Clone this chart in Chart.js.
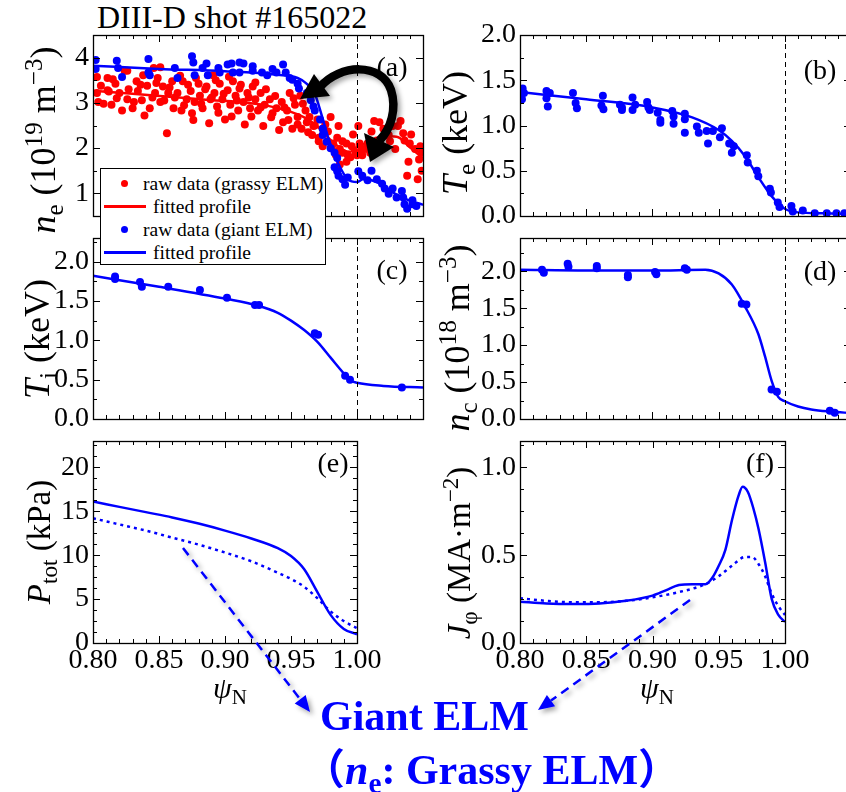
<!DOCTYPE html>
<html>
<head>
<meta charset="utf-8">
<script src="https://cdn.jsdelivr.net/npm/chart.js@4.4.1/dist/chart.umd.min.js"></script>
<style>
  body { margin: 0; background: #fff; }
  #page { position: relative; width: 846px; height: 792px; overflow: hidden;
          font-family: "Liberation Serif", "Times New Roman", serif; color: #000; }
  canvas { position: absolute; }
  .t { position: absolute; white-space: nowrap; line-height: 1; }
  .yt { position: absolute; white-space: nowrap; line-height: 1; font-size: 36px;
        transform: translate(-50%, -50%) rotate(-90deg); }
  .lab { position: absolute; white-space: nowrap; line-height: 1; font-size: 28px;
         transform: translate(-50%, -50%); }
  .sb { font-size: 0.7em; position: relative; top: 0.3em; }
  .sp { font-size: 0.7em; position: relative; top: -0.5em; }
  #legend { position: absolute; left: 100px; top: 168px; width: 224px; height: 95px;
            border: 1px solid #000; background: #fff; font-size: 19.5px; }
  #legend .row { position: absolute; left: 0; height: 23px; width: 100%; }
  #legend .dot { position: absolute; left: 20px; top: 8px; width: 7px; height: 7px; border-radius: 50%; }
  #legend .ln { position: absolute; left: 3px; top: 10px; width: 42px; height: 2.5px; }
  #legend span.txt { position: absolute; top: 2px; line-height: 1; }
  .big { font-size: 42px; font-weight: bold; font-family: "Liberation Serif", serif; }
</style>
</head>
<body>
<div id="page">
  <div class="t" style="left:97px; top:1px; font-size:32px;">DIII-D shot #165022</div>
</div>
<script>
// psi_N axis
const xTicks = [0.80, 0.85, 0.90, 0.95, 1.00];

// (a) electron density, 10^19 m^-3
const neTicks = [1, 2, 3, 4];
const neGrassyRaw = [
  [0.803,3.57],[0.803,3.22],[0.804,3.02],[0.806,3.38],[0.808,2.98],[0.811,3.55],[0.811,3.28],[0.812,3.25],
  [0.814,2.96],[0.815,3.52],[0.817,3.42],[0.818,3.10],[0.820,3.22],[0.822,2.83],[0.824,3.71],[0.826,3.71],
  [0.826,3.08],[0.827,3.30],[0.830,2.88],[0.831,3.02],[0.833,3.48],[0.834,3.26],[0.836,3.40],[0.837,3.06],
  [0.838,3.61],[0.839,2.72],[0.841,3.38],[0.843,2.88],[0.845,3.12],[0.846,3.77],[0.847,3.22],[0.848,3.44],
  [0.849,3.55],[0.851,3.02],[0.851,3.79],[0.853,3.36],[0.854,3.05],[0.856,2.33],[0.857,3.22],[0.858,3.34],
  [0.860,3.48],[0.861,2.88],[0.862,3.12],[0.864,3.22],[0.866,3.60],[0.867,2.83],[0.868,3.48],[0.869,2.95],
  [0.871,3.08],[0.872,3.40],[0.874,3.26],[0.875,2.77],[0.876,2.62],[0.877,3.02],[0.878,3.55],[0.880,3.42],
  [0.881,3.16],[0.882,2.98],[0.883,2.88],[0.885,3.30],[0.886,3.36],[0.888,2.55],[0.889,3.08],[0.890,3.12],
  [0.891,3.61],[0.892,3.22],[0.893,3.50],[0.894,2.92],[0.895,2.78],[0.896,3.42],[0.898,3.08],[0.899,3.20],
  [0.900,2.63],[0.902,3.28],[0.903,3.58],[0.904,2.96],[0.905,2.70],[0.906,3.48],[0.908,3.16],[0.909,3.05],
  [0.910,2.83],[0.911,3.32],[0.912,3.40],[0.914,3.02],[0.915,2.52],[0.917,3.22],[0.918,3.12],[0.919,2.88],
  [0.920,2.70],[0.921,3.36],[0.923,3.08],[0.923,3.45],[0.925,2.83],[0.927,3.22],[0.927,2.90],[0.929,2.49],
  [0.930,2.96],[0.931,3.30],[0.934,3.08],[0.935,2.68],[0.936,2.77],[0.938,3.15],[0.939,2.88],[0.941,2.40],
  [0.943,3.02],[0.944,2.57],[0.945,2.90],[0.947,2.83],[0.948,2.62],[0.949,3.22],[0.951,2.43],[0.952,3.10],
  [0.953,2.96],[0.955,2.69],[0.955,2.52],[0.957,3.16],[0.958,2.43],[0.959,2.98],[0.961,2.83],[0.962,2.57],
  [0.963,2.35],[0.964,2.69],[0.966,2.29],[0.967,2.49],[0.968,2.50],[0.970,2.63],[0.971,2.23],[0.971,2.15],
  [0.974,2.43],[0.974,2.04],[0.976,2.52],[0.978,2.37],[0.980,2.69],[0.981,2.00],[0.982,2.10],[0.984,1.85],
  [0.985,2.23],[0.986,2.49],[0.987,1.98],[0.987,1.64],[0.989,2.15],[0.989,1.90],[0.992,2.10],[0.992,1.70],
  [0.993,1.84],[0.995,1.80],[0.996,2.04],[0.997,2.30],[0.999,1.90],[1.000,1.84],[1.001,2.49],[1.002,2.10],
  [1.003,1.95],[1.004,1.84],[1.006,1.98],[1.008,2.10],[1.010,1.90],[1.011,2.37],[1.013,2.60],[1.015,2.17],
  [1.017,2.57],[1.018,2.05],[1.020,2.43],[1.021,2.29],[1.024,2.29],[1.025,2.15],[1.027,2.49],[1.029,1.98],
  [1.031,2.49],[1.033,2.60],[1.035,2.33],[1.036,2.17],[1.038,1.39],[1.039,1.70],[1.040,2.10],[1.041,2.30],
  [1.044,1.98],[1.046,1.31],[1.047,1.75],[1.048,2.04],[1.049,1.90],[1.049,1.50]
];
const neGrassyFit = [
  [0.80,3.27],[0.83,3.20],[0.86,3.13],[0.89,3.06],[0.91,3.02],[0.93,2.95],[0.95,2.80],[0.96,2.68],
  [0.97,2.48],[0.98,2.18],[0.99,1.95],[0.995,1.92],[1.00,2.02],[1.01,2.14],[1.02,2.26],[1.03,2.25],
  [1.04,2.02],[1.05,1.78]
];
const neGiantRaw = [
  [0.802,3.95],[0.802,3.75],[0.818,3.93],[0.819,3.77],[0.822,3.57],[0.842,3.97],[0.842,3.67],[0.843,3.61],
  [0.862,3.77],[0.864,3.55],[0.875,4.03],[0.876,3.89],[0.877,3.61],[0.883,3.77],[0.887,3.61],[0.886,3.87],
  [0.895,3.77],[0.896,3.67],[0.902,3.85],[0.905,3.87],[0.906,3.67],[0.911,3.89],[0.911,3.67],[0.914,3.87],
  [0.921,3.81],[0.921,3.71],[0.928,3.67],[0.932,3.61],[0.936,3.75],[0.939,3.67],[0.944,3.85],[0.946,3.67],
  [0.949,3.55],[0.951,3.51],[0.955,3.42],[0.956,3.32],[0.962,3.22],[0.965,3.06],[0.967,2.92],[0.968,2.83],
  [0.972,2.63],[0.974,2.43],[0.974,2.29],[0.977,2.14],[0.980,2.00],[0.983,1.90],[0.985,1.78],[0.983,1.58],
  [0.985,1.49],[0.986,1.39],[0.989,1.31],[0.991,1.19],[0.993,1.35],[1.001,1.49],[1.004,1.39],[1.008,1.29],
  [1.011,1.50],[1.015,1.31],[1.019,1.21],[1.021,1.11],[1.024,0.99],[1.027,1.11],[1.030,0.91],[1.034,1.05],
  [1.035,0.91],[1.036,0.76],[1.038,0.66],[1.042,0.85],[1.042,0.76],[1.045,0.72]
];
const neGiantFit = [
  [0.80,3.82],[0.85,3.75],[0.90,3.70],[0.94,3.62],[0.955,3.55],[0.962,3.42],[0.968,3.20],[0.9735,2.70],
  [0.978,2.25],[0.983,1.85],[0.9886,1.50],[0.993,1.31],[1.00,1.25],[1.0045,1.31],[1.011,1.29],[1.019,1.19],
  [1.029,0.99],[1.039,0.85],[1.05,0.75]
];

// (b) electron temperature, keV
const keVTicks = [0, 0.5, 1.0, 1.5, 2.0];
const teRaw = [
  [0.802,1.41],[0.8015,1.29],[0.803,1.36],[0.820,1.38],[0.8225,1.36],[0.821,1.21],[0.820,1.30],[0.840,1.36],
  [0.842,1.25],[0.843,1.19],[0.8626,1.33],[0.8615,1.22],[0.863,1.18],[0.8755,1.23],[0.877,1.17],[0.877,1.20],
  [0.885,1.31],[0.885,1.17],[0.887,1.23],[0.896,1.26],[0.897,1.20],[0.898,1.17],[0.904,1.14],[0.906,1.06],
  [0.906,1.03],[0.915,1.16],[0.916,1.10],[0.916,1.02],[0.9245,1.13],[0.9245,1.07],[0.9245,0.92],[0.9336,0.99],
  [0.935,0.92],[0.941,0.94],[0.942,0.80],[0.9457,0.94],[0.951,0.87],[0.9525,0.97],[0.958,0.80],[0.960,0.70],
  [0.9615,0.77],[0.9713,0.67],[0.972,0.59],[0.9789,0.50],[0.980,0.44],[0.9887,0.30],[0.9895,0.26],[0.9947,0.15],
  [0.996,0.10],[1.005,0.11],[1.006,0.05],[1.0136,0.06],[1.0226,0.03],[1.0317,0.03],[1.039,0.03],[1.045,0.03]
];
const teFit = [
  [0.80,1.37],[0.85,1.29],[0.90,1.20],[0.93,1.09],[0.95,0.95],[0.96,0.83],[0.97,0.66],[0.98,0.43],
  [0.99,0.22],[1.00,0.08],[1.01,0.04],[1.03,0.03],[1.05,0.02]
];

// (c) ion temperature, keV
const tiRaw = [
  [0.8167,1.81],[0.8167,1.78],[0.8356,1.74],[0.837,1.68],[0.857,1.68],[0.881,1.64],[0.9015,1.54],[0.9227,1.45],
  [0.9258,1.45],[0.968,1.09],[0.9705,1.07],[0.991,0.55],[0.9947,0.50],[1.034,0.40]
];
const tiFit = [
  [0.80,1.82],[0.85,1.68],[0.90,1.53],[0.925,1.44],[0.94,1.35],[0.95,1.25],[0.96,1.13],[0.97,0.98],
  [0.98,0.78],[0.99,0.58],[0.995,0.49],[1.00,0.46],[1.02,0.42],[1.05,0.40]
];

// (d) carbon density, 10^18 m^-3
const ncRaw = [
  [0.8166,2.02],[0.818,1.98],[0.836,2.10],[0.8366,2.06],[0.858,2.07],[0.858,2.04],[0.8815,1.95],[0.8815,1.92],
  [0.902,1.99],[0.903,1.96],[0.9245,2.04],[0.926,2.02],[0.9675,1.56],[0.971,1.55],[0.990,0.40],[0.994,0.37],
  [1.034,0.11],[1.0377,0.085]
];
const ncFit = [
  [0.80,2.02],[0.85,2.01],[0.90,2.01],[0.94,2.02],[0.95,1.97],[0.96,1.82],[0.97,1.52],[0.98,1.15],
  [0.985,0.85],[0.99,0.52],[0.995,0.30],[1.00,0.24],[1.01,0.17],[1.02,0.13],[1.035,0.10],[1.05,0.08]
];

// (e) total pressure, kPa
const pTicks = [0, 5, 10, 15, 20];
const pSolid = [
  [0.80,16.1],[0.82,15.5],[0.84,14.9],[0.86,14.3],[0.88,13.6],[0.90,12.8],[0.92,11.9],[0.94,10.8],
  [0.95,9.9],[0.96,8.4],[0.97,5.8],[0.98,3.2],[0.99,1.6],[1.00,1.0]
];
const pDotted = [
  [0.80,14.2],[0.82,13.5],[0.84,12.8],[0.86,12.0],[0.88,11.2],[0.90,10.3],[0.92,9.3],[0.94,8.0],
  [0.95,7.3],[0.96,6.4],[0.97,5.1],[0.98,3.6],[0.99,2.5],[1.00,1.7]
];

// (f) toroidal current density, MA m^-2
const jTicks = [0, 0.5, 1.0];
const jSolid = [
  [0.80,0.235],[0.82,0.225],[0.84,0.222],[0.86,0.225],[0.88,0.24],[0.90,0.27],[0.91,0.30],[0.92,0.33],
  [0.93,0.335],[0.94,0.335],[0.945,0.37],[0.95,0.44],[0.955,0.53],[0.96,0.70],[0.965,0.84],[0.968,0.89],
  [0.972,0.86],[0.976,0.77],[0.98,0.65],[0.985,0.46],[0.99,0.25],[0.995,0.16],[1.00,0.12]
];
const jDotted = [
  [0.80,0.255],[0.82,0.24],[0.84,0.232],[0.86,0.232],[0.88,0.24],[0.90,0.26],[0.92,0.29],[0.94,0.335],
  [0.95,0.38],[0.96,0.44],[0.97,0.49],[0.975,0.49],[0.98,0.45],[0.985,0.38],[0.99,0.28],[0.995,0.21],[1.00,0.16]
];

const RED = '#ff0000', BLUE = '#0000ff';
const FONT = { family: "'Liberation Serif', 'Times New Roman', serif", size: 28 };
const page = document.getElementById('page');

const pts = arr => arr.map(([x, y]) => ({ x, y }));
const dots = (arr, color, order) => ({
  data: pts(arr), showLine: false, pointRadius: 4, pointHoverRadius: 4,
  backgroundColor: color, borderColor: color, pointBorderWidth: 0, order
});
const curve = (arr, color, order, dash) => ({
  data: pts(arr), showLine: true, pointRadius: 0, borderColor: color, borderWidth: 2.5,
  borderDash: dash || [], cubicInterpolationMode: 'monotone', fill: false, order
});

// box, inward ticks on all four sides and the dashed separatrix line
const framePlugin = {
  id: 'frame',
  afterDraw(chart, args, o) {
    const { ctx, chartArea: a, scales: { x, y } } = chart;
    ctx.save();
    ctx.strokeStyle = '#000';
    ctx.lineWidth = 1;
    const seg = (x1, y1, x2, y2) => { ctx.beginPath(); ctx.moveTo(x1, y1); ctx.lineTo(x2, y2); ctx.stroke(); };
    if (o.sep) {
      ctx.setLineDash([5, 4]);
      const px = Math.round(x.getPixelForValue(1.0)) + 0.5;
      seg(px, a.top, px, a.bottom);
      ctx.setLineDash([]);
    }
    for (let i = 0; ; i++) {
      const v = Math.round((x.min + i * 0.01) * 1000) / 1000;
      if (v > x.max + 1e-9) break;
      const len = i % 5 === 0 ? 7 : 4;
      const px = Math.round(x.getPixelForValue(v)) + 0.5;
      seg(px, a.bottom, px, a.bottom - len);
      seg(px, a.top, px, a.top + len);
    }
    const n = Math.round((y.max - y.min) / o.minor);
    const start = Math.ceil(y.min / o.minor - 1e-9) * o.minor;
    for (let i = 0; i <= n + 1; i++) {
      const v = start + i * o.minor;
      if (v > y.max + 1e-9) break;
      const r = v / o.major;
      const len = Math.abs(r - Math.round(r)) < 1e-6 ? 7 : 4;
      const py = Math.round(y.getPixelForValue(v)) + 0.5;
      seg(a.left, py, a.left + len, py);
      seg(a.right, py, a.right - len, py);
    }
    ctx.lineWidth = 1.3;
    ctx.strokeRect(Math.round(a.left) + 0.5, Math.round(a.top) + 0.5, Math.round(a.width), Math.round(a.height));
    ctx.restore();
  }
};

function panel(box, cfg) {
  // box = plot area in page pixels: [left, top, right, bottom]
  const padL = 80, padT = 22, padR = 30, padB = cfg.xLabels ? 50 : 22;
  const c = document.createElement('canvas');
  c.width = box[2] - box[0] + padL + padR;
  c.height = box[3] - box[1] + padT + padB;
  c.style.left = (box[0] - padL) + 'px';
  c.style.top = (box[1] - padT) + 'px';
  page.appendChild(c);
  new Chart(c, {
    type: 'scatter',
    data: { datasets: cfg.datasets },
    plugins: [framePlugin],
    options: {
      responsive: false,
      animation: false,
      events: [],
      layout: { padding: { left: 0, top: padT, right: padR, bottom: cfg.xLabels ? 0 : padB } },
      plugins: {
        legend: { display: false },
        tooltip: { enabled: false },
        frame: { sep: cfg.sep, minor: cfg.minor, major: cfg.major }
      },
      scales: {
        x: {
          type: 'linear', min: 0.8, max: cfg.xMax,
          display: !!cfg.xLabels,
          afterFit: s => { s.height = padB; },
          afterBuildTicks: s => { s.ticks = (cfg.xLabels || []).map(v => ({ value: v })); },
          grid: { display: false, drawTicks: false },
          border: { display: false },
          ticks: { font: FONT, color: '#000', padding: 1, maxRotation: 0, autoSkip: false,
                   callback: v => v.toFixed(2) }
        },
        y: {
          type: 'linear', min: cfg.yMin, max: cfg.yMax,
          afterFit: s => { s.width = padL; },
          afterBuildTicks: s => { s.ticks = cfg.yTicks.map(v => ({ value: v })); },
          grid: { display: false, drawTicks: false },
          border: { display: false },
          ticks: { font: FONT, color: '#000', padding: 4, callback: cfg.fmt }
        }
      }
    }
  });
}

const f0 = v => String(v);
const f1 = v => v.toFixed(1);

panel([93, 35, 423, 238], {
  xMax: 1.05, yMin: 0.5, yMax: 4.5, yTicks: neTicks, fmt: f0, major: 1, minor: 0.5, sep: true,
  datasets: [dots(neGrassyRaw, RED, 4), curve(neGrassyFit, RED, 3), dots(neGiantRaw, BLUE, 2), curve(neGiantFit, BLUE, 1)]
});
panel([520, 35, 851, 238], {
  xMax: 1.05, yMin: 0, yMax: 2.0, yTicks: keVTicks, fmt: f1, major: 0.5, minor: 0.25, sep: true,
  datasets: [dots(teRaw, BLUE, 2), curve(teFit, BLUE, 1)]
});
panel([93, 238, 423, 441], {
  xMax: 1.05, yMin: 0, yMax: 2.3, yTicks: keVTicks, fmt: f1, major: 0.5, minor: 0.25, sep: true,
  datasets: [dots(tiRaw, BLUE, 2), curve(tiFit, BLUE, 1)]
});
panel([520, 238, 851, 441], {
  xMax: 1.05, yMin: 0, yMax: 2.45, yTicks: keVTicks, fmt: f1, major: 0.5, minor: 0.25, sep: true,
  datasets: [dots(ncRaw, BLUE, 2), curve(ncFit, BLUE, 1)]
});
panel([93, 441, 357, 643], {
  xMax: 1.0, yMin: 0, yMax: 23, yTicks: pTicks, fmt: f0, major: 5, minor: 1.25, xLabels: xTicks,
  datasets: [curve(pDotted, BLUE, 2, [3, 4]), curve(pSolid, BLUE, 1)]
});
panel([520, 441, 785, 643], {
  xMax: 1.0, yMin: 0, yMax: 1.15, yTicks: jTicks, fmt: f1, major: 0.5, minor: 0.125, xLabels: xTicks,
  datasets: [curve(jDotted, BLUE, 2, [3, 4]), curve(jSolid, BLUE, 1)]
});

// annotations drawn over the plots
page.insertAdjacentHTML('beforeend', `
<svg width="846" height="792" style="position:absolute;left:0;top:0">
  <defs>
    <filter id="sh" x="-30%" y="-30%" width="160%" height="160%">
      <feDropShadow dx="3" dy="3" stdDeviation="2.5" flood-color="#000" flood-opacity="0.35"/>
    </filter>
  </defs>
  <g filter="url(#sh)">
    <path d="M 320 87 C 340 64 381 62 391 90 C 397 109 391 129 379 141" stroke="#000" stroke-width="8.5" fill="none"/>
    <polygon points="300,99 314,74 330,96" fill="#000"/>
    <polygon points="370,162 364,133 394,147" fill="#000"/>
  </g>
  <g filter="url(#sh)">
    <line x1="183" y1="548" x2="300" y2="699" stroke="${BLUE}" stroke-width="2.5" stroke-dasharray="9 6"/>
    <polygon points="310,712 294.7,703.6 305.7,695" fill="${BLUE}"/>
    <line x1="690" y1="600" x2="551" y2="700.6" stroke="${BLUE}" stroke-width="2.5" stroke-dasharray="9 6"/>
    <polygon points="538,710 546.9,694.9 555.1,706.3" fill="${BLUE}"/>
  </g>
</svg>
<div id="legend">
  <div class="row" style="top:3px"><div class="dot" style="background:${RED}"></div><span class="txt" style="left:42px">raw data (grassy ELM)</span></div>
  <div class="row" style="top:26px"><div class="ln" style="background:${RED}"></div><span class="txt" style="left:52px">fitted profile</span></div>
  <div class="row" style="top:49px"><div class="dot" style="background:${BLUE}"></div><span class="txt" style="left:42px">raw data (giant ELM)</span></div>
  <div class="row" style="top:72px"><div class="ln" style="background:${BLUE}"></div><span class="txt" style="left:52px">fitted profile</span></div>
</div>
<div class="yt" style="left:43px; top:140px"><i>n</i><span class="sb">e</span> (10<span class="sp">19</span> m<span class="sp">&minus;3</span>)</div>
<div class="yt" style="left:455px; top:133px"><i>T</i><span class="sb">e</span> (keV)</div>
<div class="yt" style="left:37px; top:339px"><i>T</i><span class="sb">i</span> (keV)</div>
<div class="yt" style="left:457px; top:338px"><i>n</i><span class="sb">c</span> (10<span class="sp">18</span> m<span class="sp">&minus;3</span>)</div>
<div class="yt" style="left:39px; top:542px; font-size:33px"><i>P</i><span class="sb">tot</span> (kPa)</div>
<div class="yt" style="left:459px; top:553px; font-size:33px"><i>J</i><span class="sb">&phi;</span> (MA&middot;m<span class="sp">&minus;2</span>)</div>
<div class="lab" style="left:392px; top:67px">(a)</div>
<div class="lab" style="left:820px; top:70px">(b)</div>
<div class="lab" style="left:392px; top:270px">(c)</div>
<div class="lab" style="left:820px; top:271px">(d)</div>
<div class="lab" style="left:333px; top:463px">(e)</div>
<div class="lab" style="left:760px; top:463px">(f)</div>
<div class="t" style="left:213px; top:673px; font-size:30px;"><i>&psi;</i><span class="sb">N</span></div>
<div class="t" style="left:640px; top:673px; font-size:30px;"><i>&psi;</i><span class="sb">N</span></div>
<div class="t big" style="left:320px; top:695px; color:${BLUE};">Giant ELM</div>
<div class="t big" style="left:303px; top:745px; color:${BLUE};"><span style="font-family:'Noto Sans CJK SC'">（</span><i>n</i><span class="sb">e</span>: Grassy ELM<span style="font-family:'Noto Sans CJK SC'">）</span></div>
`);
</script>
</body>
</html>
